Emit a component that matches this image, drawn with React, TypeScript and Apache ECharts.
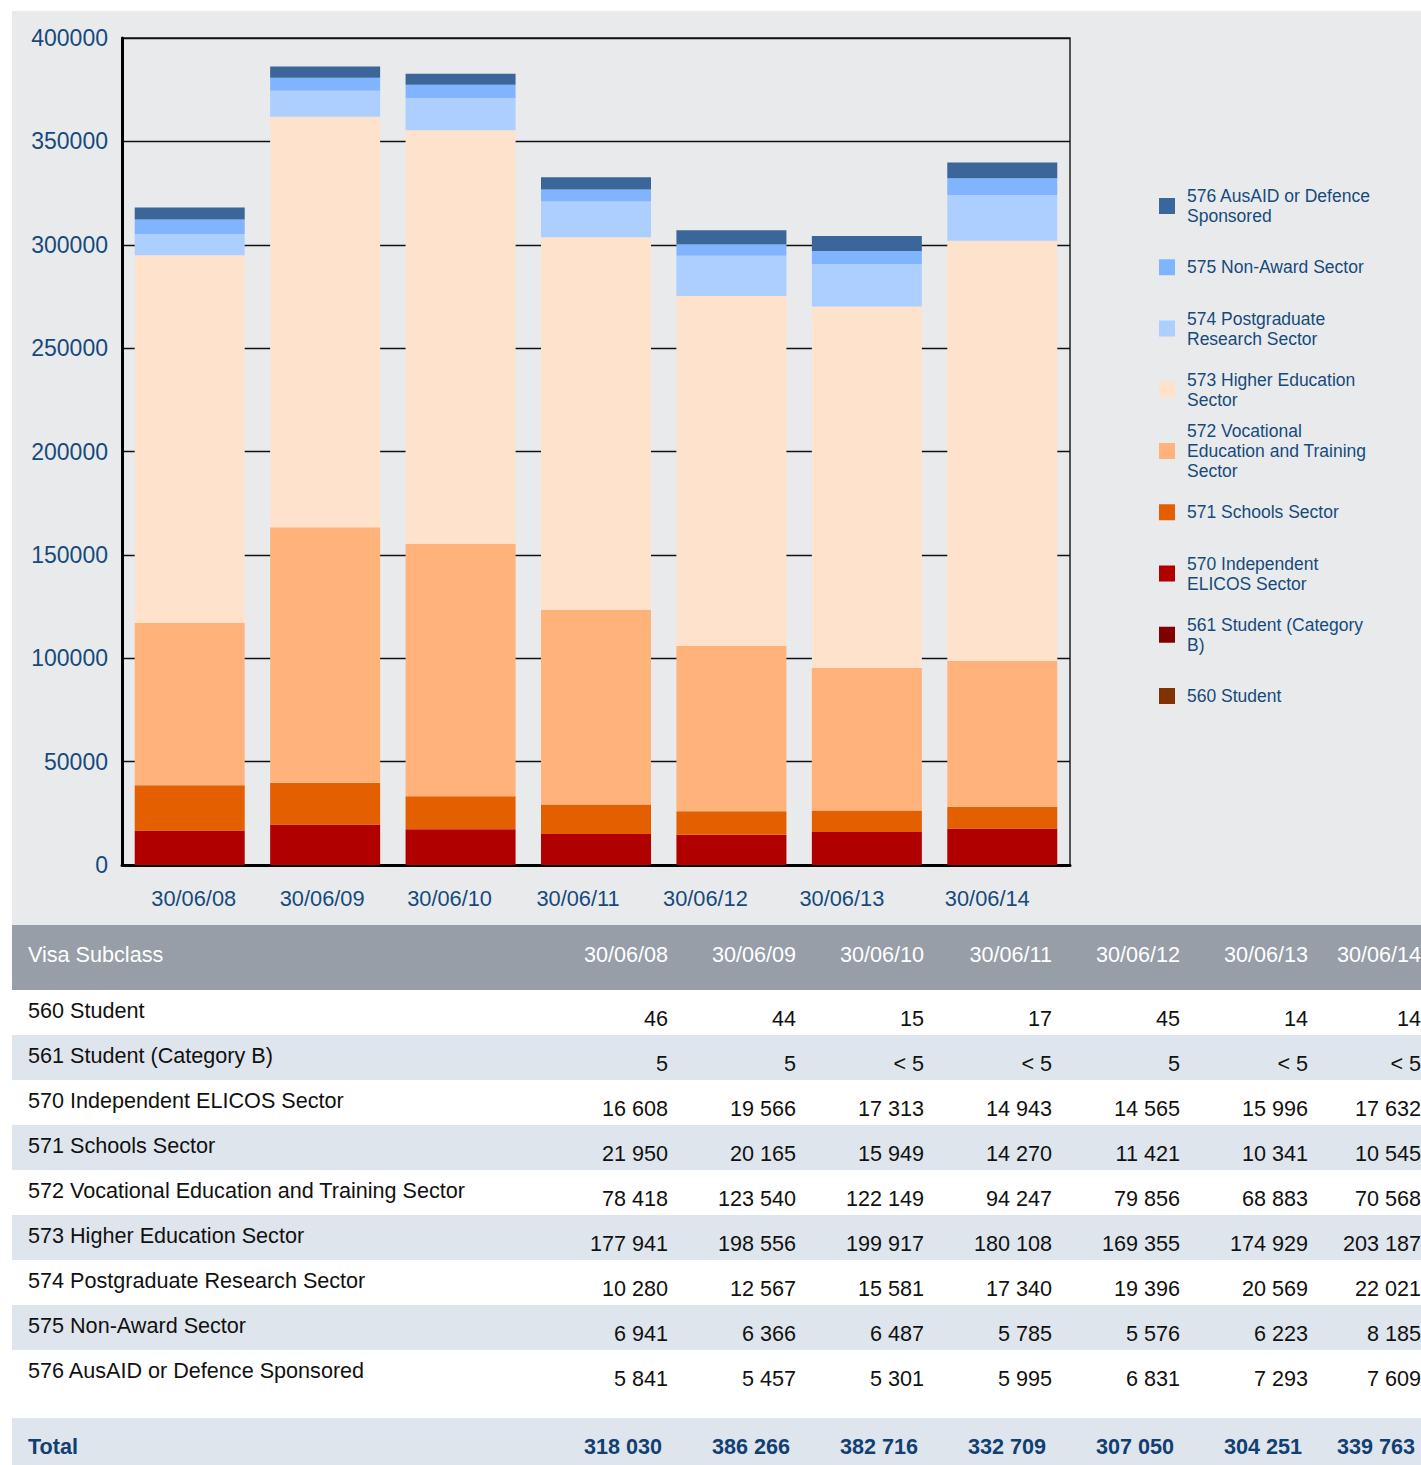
import React, { useEffect, useRef } from "react";
import * as echarts from "echarts";

const CATEGORIES = ["30/06/08", "30/06/09", "30/06/10", "30/06/11", "30/06/12", "30/06/13", "30/06/14"];

const SERIES_NAMES = [
  "560 Student",
  "561 Student (Category B)",
  "570 Independent ELICOS Sector",
  "571 Schools Sector",
  "572 Vocational Education and Training Sector",
  "573 Higher Education Sector",
  "574 Postgraduate Research Sector",
  "575 Non-Award Sector",
  "576 AusAID or Defence Sponsored",
];

// null = "< 5"
const S560 = [46, 44, 15, 17, 45, 14, 14];
const S561 = [5, 5, null, null, 5, null, null];
const S570 = [16608, 19566, 17313, 14943, 14565, 15996, 17632];
const S571 = [21950, 20165, 15949, 14270, 11421, 10341, 10545];
const S572 = [78418, 123540, 122149, 94247, 79856, 68883, 70568];
const S573 = [177941, 198556, 199917, 180108, 169355, 174929, 203187];
const S574 = [10280, 12567, 15581, 17340, 19396, 20569, 22021];
const S575 = [6941, 6366, 6487, 5785, 5576, 6223, 8185];
const S576 = [5841, 5457, 5301, 5995, 6831, 7293, 7609];
const TOTALS = [318030, 386266, 382716, 332709, 307050, 304251, 339763];

const SERIES_VALUES = [S560, S561, S570, S571, S572, S573, S574, S575, S576];

const COLORS = ["#7f3300", "#800000", "#b00000", "#e35f00", "#ffb37b", "#ffe2cc", "#accfff", "#80b4ff", "#3a6699"];

const LEGEND_LABELS: Record<string, string> = {
  "576 AusAID or Defence Sponsored": "576 AusAID or Defence\nSponsored",
  "575 Non-Award Sector": "575 Non-Award Sector",
  "574 Postgraduate Research Sector": "574 Postgraduate\nResearch Sector",
  "573 Higher Education Sector": "573 Higher Education\nSector",
  "572 Vocational Education and Training Sector": "572 Vocational\nEducation and Training\nSector",
  "571 Schools Sector": "571 Schools Sector",
  "570 Independent ELICOS Sector": "570 Independent\nELICOS Sector",
  "561 Student (Category B)": "561 Student (Category\nB)",
  "560 Student": "560 Student",
};

// horizontal nudges of the category labels (layout only)
const LABEL_SHIFT = [4, -3, -11, -18, -26, -25, -15];

const BLUE = "#164a7c";
const FONT = '"Liberation Sans", Arial, Helvetica, sans-serif';

const fmt = (v: number | null) =>
  v === null ? "< 5" : String(v).replace(/\B(?=(\d{3})+(?!\d))/g, " ");

function Chart() {
  const ref = useRef<HTMLDivElement>(null);
  useEffect(() => {
    if (!ref.current) return;
    const chart = echarts.init(ref.current, undefined, { renderer: "svg" });

    const rich: Record<string, any> = {};
    LABEL_SHIFT.forEach((d, i) => {
      rich["r" + i] = {
        fontSize: 21.8,
        color: BLUE,
        fontFamily: FONT,
        padding: d >= 0 ? [0, 0, 0, 2 * d] : [0, -2 * d, 0, 0],
      };
    });

    const legendOrder = [...SERIES_NAMES].reverse();
    const legends = legendOrder.map((name, i) => {
      const lines = LEGEND_LABELS[name].split("\n").length;
      const center = 195 + i * 61.25;
      return {
        data: [name],
        left: 1147,
        top: center - Math.max(8, lines * 10),
        orient: "vertical",
        icon: "rect",
        itemWidth: 16,
        itemHeight: 16,
        padding: 0,
        selectedMode: false,
        formatter: (n: string) => LEGEND_LABELS[n],
        textStyle: { fontSize: 17.5, lineHeight: 20, color: BLUE, fontFamily: FONT, padding: [0, 0, 0, 7] },
      };
    });

    chart.setOption({
      animation: false,
      backgroundColor: "#e9eaec",
      textStyle: { fontFamily: FONT },
      grid: {
        left: 110,
        top: 27,
        width: 948,
        height: 827,
        show: true,
        borderColor: "#222",
        borderWidth: 1.5,
        containLabel: false,
        outerBoundsMode: "none",
      },
      xAxis: {
        type: "category",
        data: CATEGORIES,
        axisLine: { lineStyle: { color: "#000", width: 3 } },
        axisTick: { show: false },
        axisLabel: {
          interval: 0,
          margin: 22,
          fontSize: 21.8,
          color: BLUE,
          formatter: (v: string, i: number) => `{r${i}|${v}}`,
          rich,
        },
      },
      yAxis: {
        type: "value",
        min: 0,
        max: 400000,
        interval: 50000,
        axisLine: { show: true, lineStyle: { color: "#000", width: 3 } },
        axisTick: { show: false },
        axisLabel: { fontSize: 23, color: BLUE, margin: 14, formatter: (v: number) => String(v) },
        splitLine: { lineStyle: { color: "#111", width: 1.3 } },
      },
      legend: legends,
      series: SERIES_NAMES.map((name, i) => ({
        name,
        type: "bar",
        stack: "total",
        data: SERIES_VALUES[i],
        barWidth: 110,
        itemStyle: { color: COLORS[i] },
        emphasis: { disabled: true },
      })),
    });
    return () => chart.dispose();
  }, []);
  return <div ref={ref} style={{ width: 1409, height: 914 }} />;
}

function Table() {
  const FIRST = 528;
  const COL = 128;
  const LAST = 113;
  const colW = (c: number) => (c === CATEGORIES.length - 1 ? LAST : COL);
  const rowStyle = (h: number, bg: string): React.CSSProperties => ({
    display: "flex",
    height: h,
    background: bg,
    fontFamily: FONT,
    fontSize: 21.6,
    lineHeight: "24px",
    color: "#111",
    whiteSpace: "nowrap",
  });
  const header = (
    <div style={{ ...rowStyle(65, "#979ea8"), color: "#fff" }}>
      <div style={{ width: FIRST, flex: "none", paddingLeft: 16, paddingTop: 18, boxSizing: "border-box" }}>Visa Subclass</div>
      {CATEGORIES.map((c, i) => (
        <div key={c} style={{ width: colW(i), flex: "none", textAlign: "right", paddingTop: 18, boxSizing: "border-box" }}>
          {c}
        </div>
      ))}
    </div>
  );
  const rows = SERIES_NAMES.map((name, r) => {
    const h = r === 8 ? 68 : 45;
    const bg = r % 2 === 1 ? "#dfe5ec" : "#ffffff";
    return (
      <div key={name} style={rowStyle(h, bg)}>
        <div style={{ width: FIRST, flex: "none", paddingLeft: 16, paddingTop: 9, boxSizing: "border-box" }}>{name}</div>
        {SERIES_VALUES[r].map((v, c) => (
          <div key={c} style={{ width: colW(c), flex: "none", textAlign: "right", paddingTop: 17, boxSizing: "border-box" }}>
            {fmt(v)}
          </div>
        ))}
      </div>
    );
  });
  const total = (
    <div style={{ ...rowStyle(47, "#dfe5ec"), color: "#123f72", fontWeight: "bold" }}>
      <div style={{ width: FIRST, flex: "none", paddingLeft: 16, paddingTop: 17, boxSizing: "border-box" }}>Total</div>
      {TOTALS.map((v, c) => (
        <div key={c} style={{ width: colW(c), flex: "none", textAlign: "right", paddingTop: 17, paddingRight: 6, boxSizing: "border-box" }}>
          {fmt(v)}
        </div>
      ))}
    </div>
  );
  return (
    <div>
      {header}
      {rows}
      {total}
    </div>
  );
}

export default function App() {
  return (
    <div
      style={{
        position: "absolute",
        left: 12,
        top: 11,
        width: 1409,
        height: 1454,
        overflow: "hidden",
        background: "#fff",
      }}
    >
      <Chart />
      <Table />
    </div>
  );
}
